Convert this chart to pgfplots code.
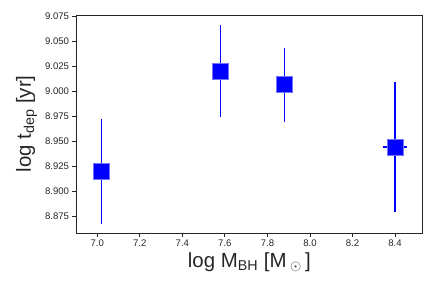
\documentclass[border=0pt]{standalone}
\usepackage{pgfplots}
\pgfplotsset{compat=1.18}
\usepackage{fontspec}
\setmainfont{Liberation Sans}
\definecolor{axgray}{HTML}{262626}
\definecolor{pblue}{RGB}{0,0,255}
\begin{document}
\begin{tikzpicture}[x=1bp,y=1bp]
\begin{axis}[name=ax,
  scale only axis, width=346.7bp, height=218bp,
  xmin=6.90, xmax=8.53, ymin=8.8587, ymax=9.0763,
  xtick={7.0,7.2,...,8.41}, ytick={8.875,8.9,...,9.076},
  xticklabel style={/pgf/number format/.cd,fixed,fixed zerofill,precision=1},
  yticklabel style={/pgf/number format/.cd,fixed,fixed zerofill,precision=3},
  /pgf/number format/assume math mode=true,
  tick label style={font=\fontsize{9.6}{11}\selectfont, text=axgray},
  tick align=outside, tick pos=left,
  major tick length=3.5bp,
  every tick/.style={axgray, line width=0.8pt},
  axis line style={axgray, line width=1pt},
  xlabel={log M\textsubscript{BH} [M\,$_\odot$\,]},
  ylabel={log t\textsubscript{dep} [yr]},
  label style={font=\fontsize{20.5}{22}\selectfont, text=axgray},
  xlabel style={yshift=1bp},
  ylabel style={yshift=1bp},
]
\addplot[draw=pblue, line width=1.2bp, only marks,
  mark=square*, mark size=8bp,
  mark options={fill=pblue, draw=pblue!55, line width=0.6pt},
  error bars/.cd, y dir=both, y explicit, x dir=both, x explicit,
  error bar style={draw=pblue, color=pblue, line width=1.2bp}, error mark=none]
coordinates {
  (7.02,8.920) +- (0.03,0.052)
  (7.58,9.020) +- (0.03,0.046)
  (7.88,9.0067) +- (0.03,0.037)
  (8.40,8.9446) +- (0.055,0.065)
};
\end{axis}
\pgfresetboundingbox
\path[use as bounding box] ([xshift=-76bp,yshift=-58bp]ax.south west) rectangle ([xshift=13.3bp,yshift=15bp]ax.north east);
\end{tikzpicture}
\end{document}
